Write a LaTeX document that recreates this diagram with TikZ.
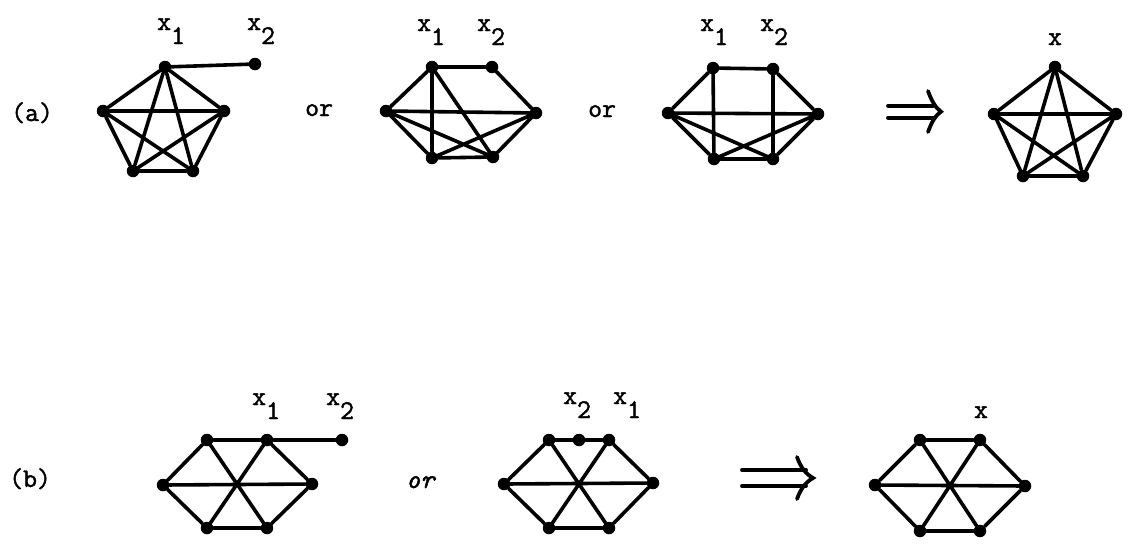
\documentclass[tikz,border=0pt]{standalone}
\usepackage{fontspec}
\newfontfamily\tyw{Latin Modern Mono}[FakeBold=1.6]
\begin{document}
\begin{tikzpicture}[x=1pt,y=-1pt,
  v/.style={circle,fill=black,inner sep=0pt,minimum size=12.5pt},
  edge/.style={line width=3.6pt,line cap=round},
  lab/.style={font=\fontsize{27}{27}\selectfont\tyw,inner sep=0pt,anchor=base west},
  txt/.style={font=\fontsize{27}{27}\selectfont\tyw,inner sep=0pt,anchor=base west},
  arr/.style={line width=3.8pt,line cap=round}]
\newcommand{\xsb}[1]{x\raisebox{-14pt}{#1}}
\useasboundingbox (0,0) rectangle (1128,550);
% ---------- row (a) ----------
\node[txt] (ta) at (11,121) {(a)};
% graph 1
\node[v] (g1t) at (165,67) {};
\node[v] (g1x) at (255,64) {};
\node[v] (g1l) at (103,111) {};
\node[v] (g1r) at (224,111) {};
\node[v] (g1bl) at (133,171) {};
\node[v] (g1br) at (193,171) {};
\draw[edge] (g1t)--(g1x) (g1t)--(g1l) (g1t)--(g1r) (g1t)--(g1bl) (g1t)--(g1br)
  (g1l)--(g1r) (g1l)--(g1bl) (g1l)--(g1br) (g1r)--(g1bl) (g1r)--(g1br) (g1bl)--(g1br);
\node[lab] (l1a) at (157,30) {\xsb{1}};
\node[lab] (l1b) at (247,30) {\xsb{2}};
\node[txt] (or1) at (305,116) {or};
% graph 2
\node[v] (g2a) at (432,67) {};
\node[v] (g2b) at (492,67) {};
\node[v] (g2l) at (386,111) {};
\node[v] (g2r) at (536,113) {};
\node[v] (g2bl) at (432,158) {};
\node[v] (g2br) at (493,157) {};
\draw[edge] (g2a)--(g2b) (g2a)--(g2l) (g2b)--(g2r) (g2l)--(g2r) (g2l)--(g2bl) (g2r)--(g2br)
  (g2bl)--(g2br) (g2a)--(g2bl) (g2a)--(g2br) (g2l)--(g2br) (g2r)--(g2bl);
\node[lab] (l2a) at (417,31) {\xsb{1}};
\node[lab] (l2b) at (477,31) {\xsb{2}};
\node[txt] (or2) at (588,117) {or};
% graph 3
\node[v] (g3a) at (713,68) {};
\node[v] (g3b) at (773,69) {};
\node[v] (g3l) at (668,113) {};
\node[v] (g3r) at (818,114) {};
\node[v] (g3bl) at (714,159) {};
\node[v] (g3br) at (773,159) {};
\draw[edge] (g3a)--(g3b) (g3a)--(g3l) (g3b)--(g3r) (g3l)--(g3r) (g3l)--(g3bl) (g3r)--(g3br)
  (g3bl)--(g3br) (g3a)--(g3bl) (g3b)--(g3br) (g3l)--(g3br) (g3r)--(g3bl);
\node[lab] (l3a) at (700,31) {\xsb{1}};
\node[lab] (l3b) at (760,31) {\xsb{2}};
% arrow (a)
\draw[arr] (888,105.7)--(933,105.7) (888,117.7)--(933,117.7);
\draw[arr] (928,91) .. controls (932,102) and (936,108) .. (941,111.7) .. controls (936,115) and (932,121) .. (928,132);
% graph 4
\node[v] (g4t) at (1055,67) {};
\node[v] (g4l) at (994,114) {};
\node[v] (g4r) at (1116,114) {};
\node[v] (g4bl) at (1023,176) {};
\node[v] (g4br) at (1083,176) {};
\draw[edge] (g4t)--(g4l) (g4t)--(g4r) (g4t)--(g4bl) (g4t)--(g4br)
  (g4l)--(g4r) (g4l)--(g4bl) (g4l)--(g4br) (g4r)--(g4bl) (g4r)--(g4br) (g4bl)--(g4br);
\node[lab,anchor=base] (l4) at (1055,45) {x};
% ---------- row (b) ----------
\node[txt] (tb) at (9,487) {(b)};
% graph 5
\node[v] (g5tl) at (207,440) {};
\node[v] (g5tr) at (267,440) {};
\node[v] (g5x) at (342,440) {};
\node[v] (g5l) at (163,485) {};
\node[v] (g5r) at (312,484) {};
\node[v] (g5bl) at (207,528) {};
\node[v] (g5br) at (267,528) {};
\draw[edge] (g5tl)--(g5tr) (g5tr)--(g5x) (g5tr)--(g5r) (g5r)--(g5br) (g5br)--(g5bl) (g5bl)--(g5l)
  (g5l)--(g5tl) (g5tl)--(g5br) (g5tr)--(g5bl) (g5l)--(g5r);
\node[lab] (l5a) at (252,405) {\xsb{1}};
\node[lab] (l5b) at (326,405) {\xsb{2}};
\node[txt,font=\fontsize{27}{27}\selectfont\tyw\itshape] (or3) at (406,488) {or};
% graph 6
\node[v] (g6tl) at (549,440) {};
\node[v] (g6m) at (579,440) {};
\node[v] (g6tr) at (609,440) {};
\node[v] (g6l) at (504,484) {};
\node[v] (g6r) at (653,483) {};
\node[v] (g6bl) at (549,528) {};
\node[v] (g6br) at (609,528) {};
\draw[edge] (g6tl)--(g6m) (g6m)--(g6tr) (g6tr)--(g6r) (g6r)--(g6br) (g6br)--(g6bl) (g6bl)--(g6l)
  (g6l)--(g6tl) (g6tl)--(g6br) (g6tr)--(g6bl) (g6l)--(g6r);
\node[lab] (l6a) at (563,404) {\xsb{2}};
\node[lab] (l6b) at (613,404) {\xsb{1}};
% arrow (b)
\draw[arr] (742,470)--(806,470) (742,486)--(806,486);
\draw[arr] (797,457) .. controls (801,468) and (806,474) .. (813,478) .. controls (806,482) and (801,488) .. (797,499);
% graph 7
\node[v] (g7tl) at (920,440) {};
\node[v] (g7tr) at (980,440) {};
\node[v] (g7l) at (875,485) {};
\node[v] (g7r) at (1025,486) {};
\node[v] (g7bl) at (920,531) {};
\node[v] (g7br) at (980,531) {};
\draw[edge] (g7tl)--(g7tr) (g7tr)--(g7r) (g7r)--(g7br) (g7br)--(g7bl) (g7bl)--(g7l)
  (g7l)--(g7tl) (g7tl)--(g7br) (g7tr)--(g7bl) (g7l)--(g7r);
\node[lab,anchor=base] (l7) at (981,418) {x};
\end{tikzpicture}
\end{document}
